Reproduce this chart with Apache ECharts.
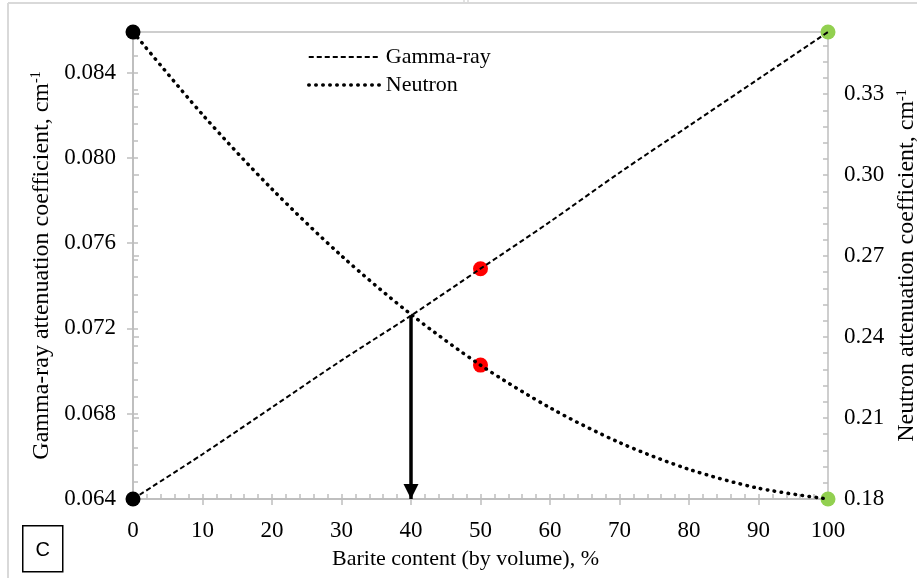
<!DOCTYPE html>
<html>
<head>
<meta charset="utf-8">
<title>Attenuation coefficients vs barite content</title>
<script src="https://cdn.jsdelivr.net/npm/echarts@6/dist/echarts.min.js"></script>
<style>
  html, body { margin: 0; padding: 0; background: #fff; overflow: hidden; }
  #chart { width: 917px; height: 578px; }
</style>
</head>
<body>
<div id="chart"></div>
<script>
// Barite content (% by volume) and the two attenuation curves
const barite = [0, 10, 20, 30, 40, 50, 60, 70, 80, 90, 100];
const gammaRay = [0.0640, 0.0661, 0.0683, 0.0705, 0.0726, 0.0748, 0.0770, 0.0793, 0.0815, 0.0837, 0.0859];
const neutron = [0.3530, 0.3224, 0.2948, 0.2701, 0.2484, 0.2296, 0.2138, 0.2009, 0.1910, 0.1840, 0.1800];

// Highlighted points (indices into barite) and their fill colours
const markerIndex = [0, 5, 10];
const markerColors = ['#000000', '#ff0000', '#92d050'];

// Where the two curves meet: arrow down to the barite axis
const crossingIndex = 4;

// Axis ranges and steps
const xRange = [0, 100];
const xStep = 10, xMinorStep = 2;
const gammaRange = [0.064, 0.0859];
const gammaStep = 0.004, gammaMinorStep = 0.0008;
const neutronRange = [0.18, 0.353];
const neutronStep = 0.03, neutronMinorStep = 0.006;

const seriesNames = ['Gamma-ray', 'Neutron'];
const xTitle = 'Barite content (by volume), %';
const gammaTitle = 'Gamma-ray attenuation coefficient, cm{sup|-1}';
const neutronTitle = 'Neutron attenuation coefficient, cm{sup|-1}';
const panelLetter = 'C';

const SERIF = '"Liberation Serif", "Times New Roman", serif';
const AXIS_GRAY = '#bfbfbf';

const pairs = (xs, ys) => xs.map((x, i) => [x, ys[i]]);
const markers = (ys) => markerIndex.map((k, j) => ({
  value: [barite[k], ys[k]],
  itemStyle: { color: markerColors[j], opacity: 1 }
}));

const titleStyle = {
  fontFamily: SERIF, fontSize: 24, color: '#000',
  rich: { sup: { fontFamily: SERIF, fontSize: 14, verticalAlign: 'top', lineHeight: 24 } }
};

const chart = echarts.init(document.getElementById('chart'), null, { renderer: 'canvas' });

chart.setOption({
  animation: false,
  backgroundColor: '#fff',
  grid: {
    left: 133, right: 89, top: 32, bottom: 79,
    outerBoundsMode: 'none', containLabel: false,
    show: true, borderColor: AXIS_GRAY, borderWidth: 1.5, backgroundColor: 'transparent'
  },
  legend: {
    data: seriesNames,
    orient: 'vertical',
    left: 307, top: 46, padding: 0,
    itemWidth: 72, itemHeight: 14, itemGap: 6,
    itemStyle: { opacity: 0 },
    lineStyle: { width: 'inherit' },
    textStyle: { fontFamily: SERIF, fontSize: 22, color: '#000' },
    selectedMode: false
  },
  xAxis: [
    {
      type: 'value', min: xRange[0], max: xRange[1], interval: xStep,
      axisLine: { lineStyle: { color: AXIS_GRAY, width: 2 } },
      axisTick: { show: true, inside: false, length: 6, lineStyle: { color: AXIS_GRAY, width: 1.5 } },
      axisLabel: { margin: 20, fontFamily: SERIF, fontSize: 23, color: '#000' },
      splitLine: { show: false },
      name: xTitle, nameLocation: 'middle', nameGap: 49,
      nameTextStyle: { fontFamily: SERIF, fontSize: 22, color: '#000', padding: [0, 30, 0, 0] }
    },
    {
      type: 'value', min: xRange[0], max: xRange[1], interval: xMinorStep,
      position: 'bottom',
      axisLine: { show: false },
      axisTick: { show: true, inside: true, length: 5, lineStyle: { color: AXIS_GRAY, width: 1.5 } },
      axisLabel: { show: false },
      splitLine: { show: false }
    }
  ],
  yAxis: [
    {
      type: 'value', position: 'left',
      min: gammaRange[0], max: gammaRange[1], interval: gammaStep,
      axisLine: { show: true, lineStyle: { color: AXIS_GRAY, width: 2 } },
      axisTick: { show: true, inside: false, length: 6, lineStyle: { color: AXIS_GRAY, width: 1.5 } },
      axisLabel: {
        margin: 17, fontFamily: SERIF, fontSize: 23, color: '#000',
        showMaxLabel: false, formatter: v => v.toFixed(3)
      },
      splitLine: { show: false },
      name: gammaTitle, nameLocation: 'middle', nameRotate: 90, nameGap: 78,
      nameTextStyle: titleStyle
    },
    {
      type: 'value', position: 'right',
      min: neutronRange[0], max: neutronRange[1], interval: neutronStep,
      axisLine: { show: true, lineStyle: { color: AXIS_GRAY, width: 2 } },
      axisTick: { show: true, inside: false, length: 6, lineStyle: { color: AXIS_GRAY, width: 1.5 } },
      axisLabel: {
        margin: 16, fontFamily: SERIF, fontSize: 23, color: '#000',
        showMaxLabel: false, formatter: v => v.toFixed(2)
      },
      splitLine: { show: false },
      name: neutronTitle, nameLocation: 'middle', nameRotate: 90, nameGap: 65,
      nameTextStyle: titleStyle
    },
    {
      type: 'value', position: 'left', offset: 0,
      min: gammaRange[0], max: gammaRange[1], interval: gammaMinorStep,
      axisLine: { show: false },
      axisTick: { show: true, inside: true, length: 5, lineStyle: { color: AXIS_GRAY, width: 1.5 } },
      axisLabel: { show: false },
      splitLine: { show: false }
    },
    {
      type: 'value', position: 'right', offset: 0,
      min: neutronRange[0], max: neutronRange[1], interval: neutronMinorStep,
      axisLine: { show: false },
      axisTick: { show: true, inside: true, length: 5, lineStyle: { color: AXIS_GRAY, width: 1.5 } },
      axisLabel: { show: false },
      splitLine: { show: false }
    }
  ],
  series: [
    {
      name: seriesNames[0],
      type: 'line',
      xAxisIndex: 0, yAxisIndex: 0,
      data: pairs(barite, gammaRay),
      smooth: 0.3,
      symbol: 'none',
      z: 3,
      lineStyle: { color: '#000', width: 2, type: [5, 3] },
      itemStyle: { color: '#000' },
      markLine: {
        silent: true,
        symbol: ['none', 'triangle'],
        symbolSize: [15, 15],
        symbolOffset: [0, [0, 7.5]],
        label: { show: false },
        lineStyle: { color: '#000', width: 3.5, type: 'solid' },
        itemStyle: { color: '#000' },
        data: [[
          { coord: [barite[crossingIndex], gammaRay[crossingIndex]] },
          { coord: [barite[crossingIndex], gammaRange[0]] }
        ]]
      }
    },
    {
      name: seriesNames[1],
      type: 'line',
      xAxisIndex: 0, yAxisIndex: 1,
      data: pairs(barite, neutron),
      smooth: 0.3,
      symbol: 'none',
      z: 3,
      lineStyle: { color: '#000', width: 3.5, type: [0.5, 6.5], cap: 'round' },
      itemStyle: { color: '#000' }
    },
    {
      name: 'gamma points',
      type: 'scatter',
      xAxisIndex: 0, yAxisIndex: 0,
      data: markers(gammaRay),
      symbol: 'circle', symbolSize: 15,
      itemStyle: { opacity: 1 },
      z: 2
    },
    {
      name: 'neutron points',
      type: 'scatter',
      xAxisIndex: 0, yAxisIndex: 1,
      data: markers(neutron),
      symbol: 'circle', symbolSize: 15,
      itemStyle: { opacity: 1 },
      z: 2
    }
  ],
  graphic: [
    // light page frame
    { type: 'line', silent: true, shape: { x1: 8, y1: 3, x2: 917, y2: 3 }, style: { stroke: '#d9d9d9', lineWidth: 2 } },
    { type: 'line', silent: true, shape: { x1: 8, y1: 3, x2: 8, y2: 578 }, style: { stroke: '#d9d9d9', lineWidth: 2 } },
    { type: 'line', silent: true, shape: { x1: 464, y1: 0, x2: 464, y2: 3 }, style: { stroke: '#d9d9d9', lineWidth: 1.5 } },
    { type: 'line', silent: true, shape: { x1: 468, y1: 0, x2: 468, y2: 3 }, style: { stroke: '#d9d9d9', lineWidth: 1.5 } },
    // panel letter box
    {
      type: 'group', left: 22, top: 525, silent: true,
      children: [
        { type: 'rect', shape: { x: 0, y: 0, width: 40, height: 46 }, style: { fill: '#fff', stroke: '#000', lineWidth: 1.5 } },
        {
          type: 'text', x: 20, y: 25,
          style: {
            text: panelLetter, fill: '#000', align: 'center', verticalAlign: 'middle',
            fontFamily: '"Liberation Sans", "Open Sans", sans-serif', fontSize: 20
          }
        }
      ]
    }
  ]
});
</script>
</body>
</html>
